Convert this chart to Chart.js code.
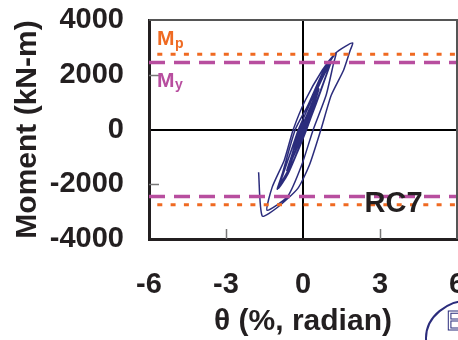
<!DOCTYPE html>
<html>
<head>
<meta charset="utf-8">
<script src="https://cdn.jsdelivr.net/npm/chart.js@4"></script>
<style>
  html, body { margin: 0; padding: 0; background: #fff; overflow: hidden; }
  #wrap { width: 480px; height: 340px; }
</style>
</head>
<body>
<div id="wrap"><canvas id="grafica" width="480" height="340"></canvas></div>
<script>
// ===== datos =====
// rotación (% rad) y momento (kN-m) del ensayo RC7, en orden de carga
const theta = [
  0, 0.3, 0.05, -0.3, -0.05,
  0.3, 0.07, -0.32, -0.06,
  0.25, 0.6, 0.4, 0.1, -0.25, -0.6, -0.4, -0.1,
  0.25, 0.62, 0.42, 0.12, -0.3, -0.62, -0.42, -0.12,
  0.22, 0.6, 0.38, 0.06, -0.28, -0.63, -0.44, -0.15,
  0.2, 0.55, 0.85, 1.05, 0.9, 0.5, 0.15, -0.25, -0.6, -0.95, -0.78, -0.45, -0.18,
  0.2, 0.6, 1.07, 0.88, 0.45, 0.12, -0.3, -0.97, -0.75, -0.4, -0.15,
  0.25, 0.65, 1.05, 0.85, 0.4, 0.1, -0.35, -0.98, -0.72, -0.35, -0.12,
  0.22, 0.62, 1.08, 0.9, 0.48, 0.05, -0.4, -1.0, -0.8, -0.3,
  0.2, 0.75, 1.1, 1.3, 1.2, 0.9, 0.4, -0.05, -0.6, -1.4,
  -1.2, -0.73, -0.38, 0.09, 0.75, 1.26, 1.65, 1.94,
  1.84, 1.58, 1.1, 0.7, 0.25, -0.2, -1.0, -1.59, -1.73
];
const momento = [
  0, 700, 50, -700, -50,
  720, 80, -720, -60,
  650, 1450, 900, 100, -700, -1450, -900, -100,
  700, 1480, 900, 80, -800, -1480, -900, -80,
  680, 1500, 880, 0, -780, -1500, -950, -60,
  600, 1450, 2050, 2400, 1950, 900, 50, -900, -1650, -2150, -1650, -750, 0,
  800, 1650, 2420, 1900, 800, -50, -1000, -2150, -1550, -600, 50,
  900, 1750, 2430, 1850, 700, -100, -1100, -2130, -1450, -500, 100,
  850, 1700, 2450, 1950, 900, -150, -1200, -2180, -1600, 0,
  900, 2050, 2550, 2800, 2450, 1250, 0, -1300, -2450, -2950,
  -2105, -1120, 0, 1070, 2165, 2785, 3040, 3160,
  2895, 2165, 1250, 0, -1300, -2150, -2850, -3160, -1560
];
const Mp = 2750;   // momento plástico
const My = 2450;   // momento de fluencia
const xTicks = [-6, -3, 0, 3, 6];
const yTicks = [-4000, -2000, 0, 2000, 4000];

const FUENTE = '"Liberation Sans", Arial, Helvetica, sans-serif';
const TEXTO = "#231f20";
const AZUL = "#2b2c7c";
const NARANJA = "#ef6a22";
const MAGENTA = "#b84e9f";

const curva = theta.map((t, i) => ({ x: t, y: momento[i] }));
const linea = (v) => [{ x: xTicks[0], y: v }, { x: xTicks[xTicks.length - 1], y: v }];

// ===== plugin: marco, marcas internas y rótulos =====
const extras = {
  id: "extras",
  afterDraw(chart) {
    const { ctx, chartArea: a, scales: { x, y } } = chart;
    ctx.save();

    // marco superior y derecho (gris)
    ctx.strokeStyle = "#555";
    ctx.lineWidth = 2;
    ctx.beginPath();
    ctx.moveTo(a.left, a.top);
    ctx.lineTo(a.right, a.top);
    ctx.lineTo(a.right, a.bottom);
    ctx.stroke();

    // marcas hacia dentro
    ctx.strokeStyle = "#777";
    ctx.lineWidth = 1.5;
    yTicks.forEach(v => {
      if (v === 0 || v === yTicks[0] || v === yTicks[yTicks.length - 1]) return;
      const py = Math.round(y.getPixelForValue(v)) + 0.5;
      ctx.beginPath(); ctx.moveTo(a.left, py); ctx.lineTo(a.left + 10, py); ctx.stroke();
    });
    xTicks.forEach(v => {
      if (v === 0 || v === xTicks[0] || v === xTicks[xTicks.length - 1]) return;
      const px = Math.round(x.getPixelForValue(v)) + 0.5;
      ctx.beginPath(); ctx.moveTo(px, a.bottom); ctx.lineTo(px, a.bottom - 10); ctx.stroke();
    });

    // rótulos Mp / My
    ctx.textBaseline = "alphabetic";
    ctx.textAlign = "left";
    ctx.fillStyle = NARANJA;
    ctx.font = "bold 21px " + FUENTE;
    ctx.fillText("M", a.left + 8, y.getPixelForValue(Mp) - 9);
    ctx.font = "bold 14px " + FUENTE;
    ctx.fillText("p", a.left + 26, y.getPixelForValue(Mp) - 6);
    ctx.fillStyle = MAGENTA;
    ctx.font = "bold 21px " + FUENTE;
    ctx.fillText("M", a.left + 8, y.getPixelForValue(My) + 25);
    ctx.font = "bold 14px " + FUENTE;
    ctx.fillText("y", a.left + 26, y.getPixelForValue(My) + 27);

    // etiqueta del espécimen
    ctx.fillStyle = TEXTO;
    ctx.font = "bold 29px " + FUENTE;
    ctx.fillText("RC7", x.getPixelForValue(2.4), y.getPixelForValue(-3000));

    // logo (parcial, en la esquina)
    ctx.strokeStyle = AZUL;
    ctx.lineWidth = 2;
    ctx.beginPath();
    ctx.ellipse(472, 338, 46, 38, 0, 0, Math.PI * 2);
    ctx.stroke();
    ctx.lineWidth = 1;
    ctx.font = "28px " + FUENTE;
    ctx.strokeText("E", 446, 330);
    ctx.restore();
  }
};

const sinComa = (v) => String(v);

new Chart(document.getElementById("grafica"), {
  type: "scatter",
  data: {
    datasets: [
      { data: linea(Mp), borderColor: NARANJA, borderWidth: 3, borderDash: [5, 8.3], borderDashOffset: 5, showLine: true, pointRadius: 0, order: 1 },
      { data: linea(-Mp), borderColor: NARANJA, borderWidth: 3, borderDash: [5, 8.3], borderDashOffset: 5, showLine: true, pointRadius: 0, order: 1 },
      { data: linea(My), borderColor: MAGENTA, borderWidth: 3.5, borderDash: [16, 9], showLine: true, pointRadius: 0, order: 2 },
      { data: linea(-My), borderColor: MAGENTA, borderWidth: 3.5, borderDash: [16, 9], showLine: true, pointRadius: 0, order: 2 },
      { data: curva, borderColor: AZUL, borderWidth: 1.5, showLine: true, tension: 0.2, pointRadius: 0, order: 3 }
    ]
  },
  options: {
    responsive: false,
    animation: false,
    devicePixelRatio: 1,
    layout: { padding: { left: 0, top: 20, right: 23, bottom: 0 } },
    plugins: { legend: { display: false }, tooltip: { enabled: false } },
    scales: {
      x: {
        type: "linear", min: -6, max: 6,
        afterBuildTicks: (s) => { s.ticks = xTicks.map(v => ({ value: v })); },
        afterFit: (s) => { s.height = 101; s.paddingLeft = 0; s.paddingRight = 0; },
        ticks: { color: TEXTO, font: { family: FUENTE, size: 29, weight: "bold" }, padding: 29, maxRotation: 0, autoSkip: false, callback: sinComa },
        grid: { drawTicks: false, lineWidth: 2, color: (c) => (c.tick && c.tick.value === 0 ? "#000" : "rgba(0,0,0,0)") },
        border: { display: true, color: TEXTO, width: 3 },
        title: { display: true, text: "θ (%, radian)", color: TEXTO, font: { family: FUENTE, size: 30, weight: "bold" }, padding: { top: 0, bottom: 0 } }
      },
      y: {
        type: "linear", min: -4000, max: 4000,
        afterBuildTicks: (s) => { s.ticks = yTicks.map(v => ({ value: v })); },
        afterFit: (s) => { s.width = 149; s.paddingTop = 0; s.paddingBottom = 0; },
        ticks: { color: TEXTO, font: { family: FUENTE, size: 29, weight: "bold" }, padding: 25, callback: sinComa },
        grid: { drawTicks: false, lineWidth: 2, color: (c) => (c.tick && c.tick.value === 0 ? "#000" : "rgba(0,0,0,0)") },
        border: { display: true, color: TEXTO, width: 3 },
        title: { display: true, text: "Moment (kN-m)", color: TEXTO, font: { family: FUENTE, size: 30, weight: "bold" }, padding: { top: 10, bottom: 0 } }
      }
    }
  },
  plugins: [extras]
});
</script>
</body>
</html>
